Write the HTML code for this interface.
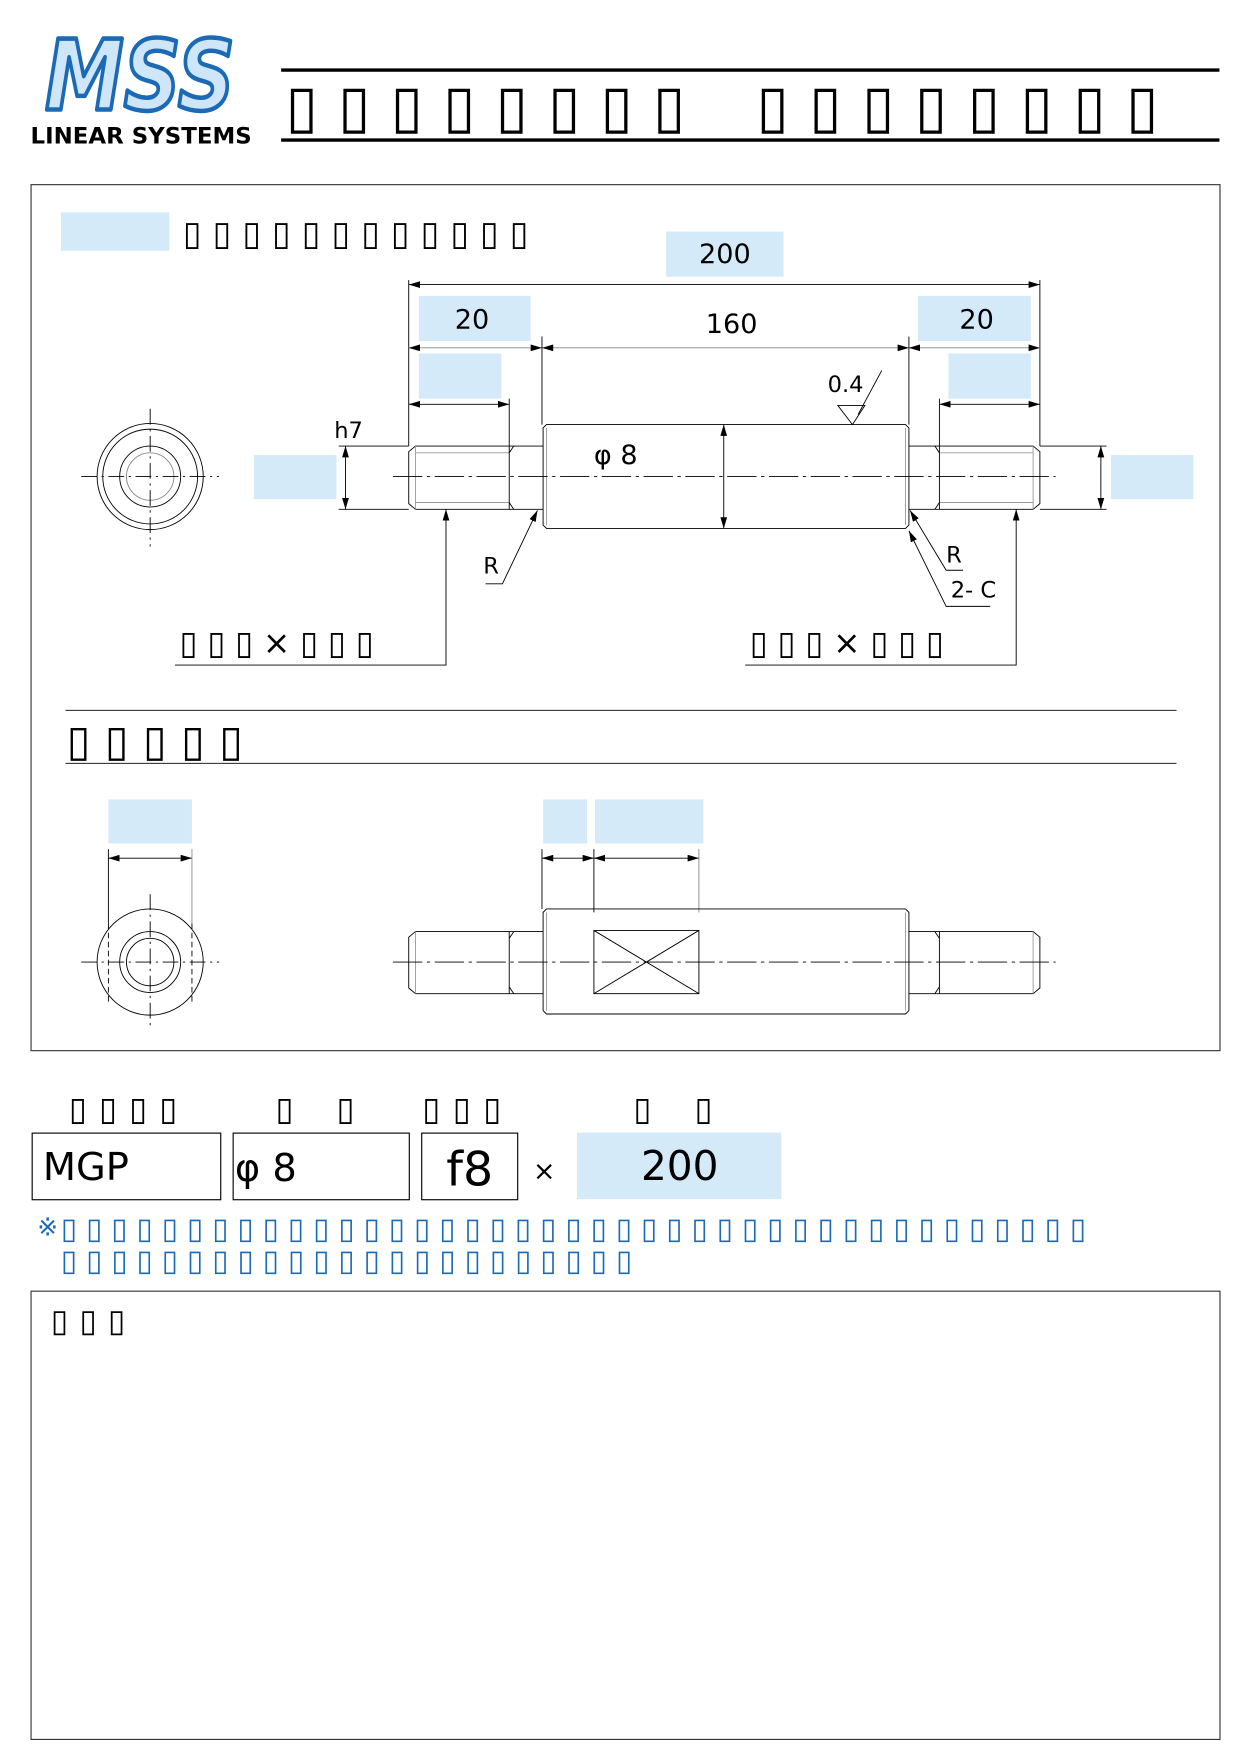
<!DOCTYPE html>
<html><head><meta charset="utf-8"><style>
html,body{margin:0;padding:0;background:#fff;}
svg{display:block;}
text{font-family:"DejaVu Sans","Liberation Sans",sans-serif;}
.t{font-family:"DejaVu Sans",sans-serif;}
</style></head><body>
<svg width="1242" height="1757" viewBox="0 0 1100 1556" xmlns="http://www.w3.org/2000/svg">
<defs>
<marker id="a" viewBox="0 0 10 6" refX="10" refY="3" markerWidth="10" markerHeight="6" markerUnits="userSpaceOnUse" orient="auto-start-reverse"><path d="M0,0L10,3L0,6z" fill="#000"/></marker>
</defs>
<rect width="1100" height="1556" fill="#fff"/>
<!-- logo -->
<text x="40" y="97" font-family="Liberation Sans" font-weight="bold" font-style="italic" font-size="86" textLength="168" lengthAdjust="spacingAndGlyphs" fill="#cfe6f8" stroke="#1a6ab5" stroke-width="4" stroke-linejoin="round">MSS</text>
<text x="27" y="127" font-family="Liberation Sans" font-weight="bold" font-size="20" textLength="196" lengthAdjust="spacingAndGlyphs">LINEAR SYSTEMS</text>
<!-- title -->
<line x1="249" y1="62" x2="1080" y2="62" stroke="#000" stroke-width="3"/>
<line x1="249" y1="124" x2="1080" y2="124" stroke="#000" stroke-width="3"/>
<text x="253" y="112" font-size="52" class="t" textLength="354" lengthAdjust="spacing">▯▯▯▯▯▯▯▯</text>
<text x="670" y="112" font-size="52" class="t" textLength="356" lengthAdjust="spacing">▯▯▯▯▯▯▯▯</text>
<!-- frame1 -->
<rect x="27.5" y="163.5" width="1053" height="767" fill="none" stroke="#333" stroke-width="1"/>
<rect x="54" y="188" width="96" height="34" fill="#d4eaf9"/>
<text x="162" y="217" font-size="30" class="t" textLength="306" lengthAdjust="spacing">▯▯▯▯▯▯▯▯▯▯▯▯</text>
<!-- blue boxes -->
<g fill="#d4eaf9">
<rect x="590" y="205" width="104" height="40"/>
<rect x="371" y="262" width="99" height="40"/>
<rect x="813" y="262" width="100" height="40"/>
<rect x="371" y="313" width="73" height="40"/>
<rect x="840" y="313" width="73" height="40"/>
<rect x="225" y="403" width="73" height="39"/>
<rect x="984" y="403" width="73" height="39"/>
<rect x="96" y="708" width="74" height="39"/>
<rect x="481" y="708" width="39" height="39"/>
<rect x="527" y="708" width="96" height="39"/>
<rect x="511" y="1003" width="181" height="59"/>
</g>
<g font-family="Liberation Sans" font-size="24" text-anchor="middle">
<text x="642" y="233">200</text>
<text x="418" y="291">20</text>
<text x="865" y="291">20</text>
<text x="648" y="295">160</text>
</g>
<g stroke="#000" stroke-width="0.8" fill="none">
<line x1="362" y1="252" x2="921" y2="252" marker-start="url(#a)" marker-end="url(#a)"/>
<line x1="362" y1="248" x2="362" y2="395"/>
<line x1="921" y1="248" x2="921" y2="395"/>
<line x1="362" y1="308" x2="480" y2="308" stroke="#888" marker-start="url(#a)" marker-end="url(#a)"/>
<line x1="480" y1="308" x2="805" y2="308" stroke="#888" marker-start="url(#a)" marker-end="url(#a)"/>
<line x1="805" y1="308" x2="921" y2="308" stroke="#888" marker-start="url(#a)" marker-end="url(#a)"/>
<line x1="480" y1="298" x2="480" y2="376"/>
<line x1="805" y1="298" x2="805" y2="376"/>
<line x1="362" y1="358" x2="451" y2="358" marker-start="url(#a)" marker-end="url(#a)"/>
<line x1="451" y1="353" x2="451" y2="395"/>
<line x1="832" y1="358" x2="921" y2="358" marker-start="url(#a)" marker-end="url(#a)"/>
<line x1="832" y1="353" x2="832" y2="395"/>
<line x1="300" y1="395" x2="362" y2="395"/>
<line x1="300" y1="451" x2="362" y2="451"/>
<line x1="306" y1="395" x2="306" y2="451" marker-start="url(#a)" marker-end="url(#a)"/>
<line x1="921" y1="395" x2="980" y2="395"/>
<line x1="921" y1="451" x2="980" y2="451"/>
<line x1="975" y1="395" x2="975" y2="451" marker-start="url(#a)" marker-end="url(#a)"/>
<line x1="641" y1="376" x2="641" y2="468" marker-start="url(#a)" marker-end="url(#a)"/>
<path d="M484,376H802L805,379V465L802,468H484L481,465V379Z"/>
<line x1="484" y1="379" x2="484" y2="465" stroke="#999"/>
<line x1="802" y1="379" x2="802" y2="465" stroke="#999"/>
<path d="M481,395H368L362,400V446L368,451H481"/>
<path d="M368,401H451M368,445H451" stroke="#999"/>
<line x1="368" y1="395" x2="368" y2="451" stroke="#999"/>
<path d="M451,395V451M451,401L455,395M451,445L455,451"/>
<path d="M805,395H915L921,400V446L915,451H805"/>
<path d="M832,401H915M832,445H915" stroke="#999"/>
<line x1="915" y1="395" x2="915" y2="451" stroke="#999"/>
<path d="M832,395V451M832,401L828,395M832,445L828,451"/>
<line x1="348" y1="422" x2="935" y2="422" stroke-dasharray="26,4,3,4"/>
<path d="M742,359H766L755,376Z"/>
<line x1="760" y1="367" x2="781" y2="328"/>
<path d="M430,517H445L476,452" marker-end="url(#a)"/>
<path d="M853,505H838L806,452" marker-end="url(#a)"/>
<path d="M877,537H838L805,470" marker-end="url(#a)"/>
<path d="M155,589H395V451" marker-end="url(#a)"/>
<path d="M660,589H900V451" marker-end="url(#a)"/>
<circle cx="133" cy="422" r="47"/>
<circle cx="133" cy="422" r="42"/>
<circle cx="133" cy="422" r="27"/>
<circle cx="133" cy="422" r="21" stroke="#888"/>
<line x1="72" y1="422" x2="194" y2="422" stroke-dasharray="14,4,2,4"/>
<line x1="133" y1="362" x2="133" y2="484" stroke-dasharray="14,4,2,4"/>
<line x1="58" y1="629" x2="1042" y2="629"/>
<line x1="58" y1="676" x2="1042" y2="676"/>
<line x1="96" y1="760" x2="170" y2="760" marker-start="url(#a)" marker-end="url(#a)"/>
<line x1="96" y1="752" x2="96" y2="818"/>
<line x1="170" y1="752" x2="170" y2="818" stroke="#888"/>
<line x1="96" y1="818" x2="96" y2="888" stroke-dasharray="5,3"/>
<line x1="170" y1="818" x2="170" y2="888" stroke-dasharray="5,3"/>
<circle cx="133" cy="852" r="47"/>
<circle cx="133" cy="852" r="27"/>
<circle cx="133" cy="852" r="21"/>
<line x1="72" y1="852" x2="194" y2="852" stroke-dasharray="14,4,2,4"/>
<line x1="133" y1="792" x2="133" y2="912" stroke-dasharray="14,4,2,4"/>
<line x1="480" y1="760" x2="526" y2="760" marker-start="url(#a)" marker-end="url(#a)"/>
<line x1="526" y1="760" x2="619" y2="760" marker-start="url(#a)" marker-end="url(#a)"/>
<line x1="480" y1="752" x2="480" y2="805"/>
<line x1="526" y1="752" x2="526" y2="808"/>
<line x1="619" y1="752" x2="619" y2="808" stroke="#888"/>
<path d="M484,805H802L805,808V895L802,898H484L481,895V808Z"/>
<line x1="484" y1="808" x2="484" y2="895" stroke="#999"/>
<line x1="802" y1="808" x2="802" y2="895" stroke="#999"/>
<path d="M481,825H368L362,830V875L368,880H481"/>
<line x1="368" y1="825" x2="368" y2="880" stroke="#999"/>
<path d="M451,825V880M451,831L455,825M451,874L455,880"/>
<path d="M805,825H915L921,830V875L915,880H805"/>
<line x1="915" y1="825" x2="915" y2="880" stroke="#999"/>
<path d="M832,825V880M832,831L828,825M832,874L828,880"/>
<rect x="526" y="824" width="93" height="56"/>
<path d="M526,824L619,880M619,824L526,880"/>
<line x1="348" y1="852" x2="935" y2="852" stroke-dasharray="26,4,3,4"/>
</g>
<g font-family="Liberation Sans" font-size="20">
<text x="296" y="388">h7</text>
<text x="526" y="411" font-size="24">φ 8</text>
<text x="733" y="347">0.4</text>
<text x="428" y="508">R</text>
<text x="838" y="498">R</text>
<text x="842" y="529">2- C</text>
</g>
<text x="159" y="579" font-size="29" class="t" textLength="172" lengthAdjust="spacing">▯▯▯×▯▯▯</text>
<text x="664" y="579" font-size="29" class="t" textLength="172" lengthAdjust="spacing">▯▯▯×▯▯▯</text>
<text x="59" y="669" font-size="38" class="t" textLength="156" lengthAdjust="spacing">▯▯▯▯▯</text>
<g font-size="29" class="t">
<text x="61" y="992" textLength="96" lengthAdjust="spacing">▯▯▯▯</text>
<text x="244" y="992" textLength="70" lengthAdjust="spacing">▯ ▯</text>
<text x="374" y="992" textLength="70" lengthAdjust="spacing">▯▯▯</text>
<text x="561" y="992" textLength="70" lengthAdjust="spacing">▯ ▯</text>
</g>
<g fill="none" stroke="#000" stroke-width="1">
<rect x="28.5" y="1003.5" width="167" height="59"/>
<rect x="206.5" y="1003.5" width="156" height="59"/>
<rect x="373.5" y="1003.5" width="85" height="59"/>
</g>
<g font-family="Liberation Sans">
<text x="38" y="1045" font-size="34">MGP</text>
<text x="208" y="1046" font-size="34">φ 8</text>
<text x="416" y="1050" font-size="42" text-anchor="middle">f8</text>
<text x="482" y="1045" font-size="24" text-anchor="middle">×</text>
<text x="602" y="1045" font-size="36" text-anchor="middle">200</text>
</g>
<text x="33" y="1094" font-size="22" fill="#1a6ab5" class="t">※</text>
<text x="54" y="1097" font-size="26" fill="#1a6ab5" class="t" textLength="908" lengthAdjust="spacing">▯▯▯▯▯▯▯▯▯▯▯▯▯▯▯▯▯▯▯▯▯▯▯▯▯▯▯▯▯▯▯▯▯▯▯▯▯▯▯▯▯</text>
<text x="54" y="1125" font-size="26" fill="#1a6ab5" class="t" textLength="506" lengthAdjust="spacing">▯▯▯▯▯▯▯▯▯▯▯▯▯▯▯▯▯▯▯▯▯▯▯</text>
<rect x="27.5" y="1143.5" width="1053" height="397" fill="none" stroke="#333" stroke-width="1"/>
<text x="45" y="1179" font-size="28" class="t" textLength="66" lengthAdjust="spacing">▯▯▯</text>
</svg>
</body></html>
